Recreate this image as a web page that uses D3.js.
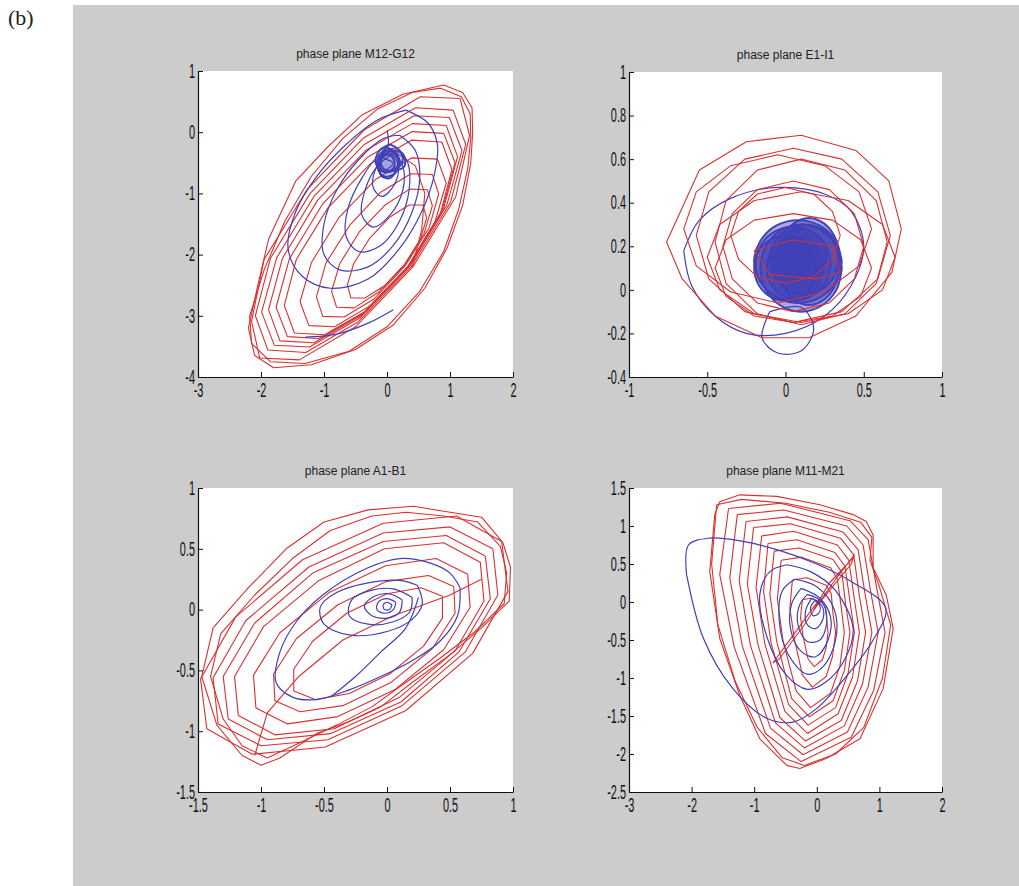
<!DOCTYPE html>
<html>
<head>
<meta charset="utf-8">
<script src="https://cdn.jsdelivr.net/npm/d3@7"></script>
<style>
  body { margin: 0; background: #fff; }
  svg { display: block; }
  .title { font-family: "Liberation Sans", Arial, sans-serif; font-size: 12px; fill: #222; }
  .lbl { font-family: "Liberation Serif", "DejaVu Serif", serif; font-size: 22px; fill: #222; }
</style>
</head>
<body>
<svg id="fig" width="1019" height="886"></svg>
<script>
// ---- tick values ----
const m12XTicks = [-3, -2, -1, 0, 1, 2];
const m12YTicks = [-4, -3, -2, -1, 0, 1];
const e1XTicks = [-1, -0.5, 0, 0.5, 1];
const e1YTicks = [-0.4, -0.2, 0, 0.2, 0.4, 0.6, 0.8, 1];
const a1XTicks = [-1.5, -1, -0.5, 0, 0.5, 1];
const a1YTicks = [-1.5, -1, -0.5, 0, 0.5, 1];
const m11XTicks = [-3, -2, -1, 0, 1, 2];
const m11YTicks = [-2.5, -2, -1.5, -1, -0.5, 0, 0.5, 1, 1.5];

// ---- phase plane M12-G12 ----
const m12Red = [
  [[0.90,0.77],[1.20,0.65],[1.35,0.40],[1.36,0.0],[1.33,-0.5],[1.20,-1.2],[0.95,-1.9],[0.60,-2.55],[0.10,-3.15],[-0.50,-3.55],[-1.20,-3.80],[-1.80,-3.85],[-2.10,-3.65],[-2.20,-3.20],[-2.05,-2.50],[-1.88,-1.75],[-1.45,-0.80],[-0.95,-0.25],[-0.40,0.28],[0.25,0.62],[0.90,0.77]],
  [[0.85,0.72],[1.18,0.58],[1.32,0.30],[1.33,-0.1],[1.28,-0.6],[1.14,-1.25],[0.90,-1.95],[0.52,-2.60],[0.0,-3.18],[-0.60,-3.58],[-1.30,-3.78],[-1.85,-3.75],[-2.15,-3.45],[-2.18,-3.00],[-1.95,-2.25],[-1.62,-1.45],[-1.20,-0.72],[-0.70,-0.10],[-0.15,0.38],[0.40,0.65],[0.85,0.72]],
  [[1.16,0.55],[1.31,-0.05],[1.09,-1.06],[0.41,-2.20],[-0.50,-3.18],[-1.39,-3.72],[-2.02,-3.69],[-2.15,-3.09],[-1.95,-2.08],[-1.27,-0.94],[-0.36,0.04],[0.53,0.58],[1.16,0.55]],
  [[1.05,0.36],[1.25,-0.20],[1.01,-1.14],[0.38,-2.2],[-0.46,-3.1],[-1.29,-3.6],[-1.89,-3.56],[-2.09,-3.0],[-1.85,-2.06],[-1.22,-1.0],[-0.38,-0.1],[0.45,0.4],[1.05,0.36]],
  [[0.99,0.24],[1.19,-0.30],[0.95,-1.19],[0.36,-2.19],[-0.44,-3.04],[-1.23,-3.51],[-1.79,-3.48],[-1.99,-2.94],[-1.75,-2.05],[-1.16,-1.05],[-0.36,-0.20],[0.43,0.27],[0.99,0.24]],
  [[0.94,0.11],[1.12,-0.40],[0.90,-1.24],[0.34,-2.19],[-0.42,-3.0],[-1.16,-3.44],[-1.70,-3.41],[-1.88,-2.90],[-1.66,-2.06],[-1.10,-1.11],[-0.34,-0.30],[0.40,0.14],[0.94,0.11]],
  [[0.90,-0.02],[1.08,-0.50],[0.87,-1.29],[0.34,-2.19],[-0.37,-2.95],[-1.08,-3.37],[-1.58,-3.34],[-1.76,-2.86],[-1.55,-2.07],[-1.02,-1.17],[-0.31,-0.41],[0.40,0.01],[0.90,-0.02]],
  [[0.87,-0.16],[1.03,-0.61],[0.84,-1.36],[0.34,-2.20],[-0.33,-2.92],[-0.99,-3.31],[-1.47,-3.28],[-1.63,-2.83],[-1.44,-2.08],[-0.94,-1.24],[-0.27,-0.52],[0.39,-0.13],[0.87,-0.16]],
  [[0.80,-0.44],[0.94,-0.83],[0.76,-1.47],[0.32,-2.21],[-0.26,-2.83],[-0.83,-3.18],[-1.24,-3.16],[-1.38,-2.77],[-1.20,-2.13],[-0.76,-1.39],[-0.18,-0.77],[0.39,-0.42],[0.80,-0.44]],
  [[0.72,-0.69],[0.82,-1.01],[0.67,-1.56],[0.29,-2.18],[-0.20,-2.72],[-0.68,-3.02],[-1.02,-3.01],[-1.12,-2.69],[-0.97,-2.14],[-0.59,-1.52],[-0.10,-0.98],[0.38,-0.68],[0.72,-0.69]],
  [[0.64,-0.94],[0.72,-1.20],[0.59,-1.65],[0.28,-2.17],[-0.13,-2.61],[-0.52,-2.87],[-0.80,-2.86],[-0.88,-2.60],[-0.75,-2.15],[-0.44,-1.63],[-0.03,-1.19],[0.36,-0.93],[0.64,-0.94]],
  [[0.57,-1.19],[0.63,-1.40],[0.53,-1.75],[0.28,-2.16],[-0.04,-2.51],[-0.35,-2.71],[-0.57,-2.71],[-0.63,-2.50],[-0.53,-2.15],[-0.28,-1.74],[0.04,-1.39],[0.35,-1.19],[0.57,-1.19]],
  [[0.10,-0.30],[0.45,-0.55],[0.60,-1.00],[0.55,-1.60],[0.40,-2.20]]
];
const m12Blue = [
  [[0.30,0.36],[0.65,0.15],[0.80,-0.20],[0.75,-0.70],[0.55,-1.30],[0.20,-1.90],[-0.30,-2.40],[-0.90,-2.55],[-1.35,-2.35],[-1.57,-1.90],[-1.45,-1.30],[-1.10,-0.70],[-0.65,-0.20],[-0.15,0.20],[0.30,0.36]],
  [[0.20,-0.05],[0.45,-0.30],[0.52,-0.75],[0.40,-1.30],[0.10,-1.85],[-0.30,-2.20],[-0.75,-2.25],[-1.00,-2.00],[-1.00,-1.50],[-0.80,-0.95],[-0.45,-0.45],[-0.05,-0.10],[0.20,-0.05]],
  [[0.15,-0.25],[0.33,-0.50],[0.35,-0.95],[0.20,-1.45],[-0.10,-1.85],[-0.45,-1.95],[-0.65,-1.70],[-0.62,-1.25],[-0.40,-0.75],[-0.10,-0.35],[0.15,-0.25]],
  [[0.10,-0.35],[0.25,-0.55],[0.25,-0.95],[0.05,-1.35],[-0.22,-1.55],[-0.40,-1.35],[-0.35,-0.95],[-0.15,-0.55],[0.10,-0.35]],
  [[0.08,-0.35],[0.18,-0.55],[0.12,-0.85],[-0.08,-1.05],[-0.22,-0.90],[-0.18,-0.60],[-0.02,-0.38],[0.08,-0.35]],
  [[0.0,0.03],[0.02,-0.20],[-0.08,-0.40],[0.10,-0.50],[-0.02,-0.62]],
  [[-1.30,-3.35],[-0.80,-3.30],[-0.30,-3.12],[0.10,-2.90]]
];
const m12Blob = [
  [[0.0,-0.25],[0.15,-0.35],[0.20,-0.50],[0.12,-0.68],[-0.05,-0.72],[-0.15,-0.58],[-0.12,-0.38],[0.0,-0.25]],
  [[0.05,-0.30],[0.25,-0.35],[0.28,-0.55],[0.15,-0.62],[-0.05,-0.60],[-0.10,-0.45],[0.05,-0.30]],
  [[-0.05,-0.35],[0.08,-0.40],[0.12,-0.55],[0.02,-0.65],[-0.10,-0.60],[-0.12,-0.45],[-0.05,-0.35]],
  [[0.05,-0.20],[0.20,-0.30],[0.25,-0.45],[0.15,-0.60],[-0.05,-0.65],[-0.18,-0.50],[-0.12,-0.30],[0.05,-0.20]],
  [[-0.10,-0.40],[0.0,-0.30],[0.12,-0.35],[0.18,-0.50],[0.05,-0.75],[-0.10,-0.70],[-0.10,-0.40]]
];

// ---- phase plane E1-I1 ----
const e1Red = [
  [[0.74,0.28],[0.66,0.50],[0.45,0.64],[0.10,0.71],[-0.25,0.68],[-0.55,0.55],[-0.76,0.22],[-0.66,0.05],[-0.45,-0.12],[-0.15,-0.22],[0.15,-0.22],[0.45,-0.12],[0.68,0.08],[0.74,0.28]],
  [[0.67,0.25],[0.59,0.45],[0.36,0.60],[0.05,0.65],[-0.26,0.60],[-0.49,0.45],[-0.57,0.25],[-0.49,0.05],[-0.26,-0.10],[0.05,-0.15],[0.36,-0.10],[0.59,0.05],[0.67,0.25]],
  [[0.55,0.28],[0.47,0.45],[0.25,0.57],[-0.05,0.62],[-0.35,0.57],[-0.57,0.45],[-0.65,0.28],[-0.57,0.11],[-0.35,-0.01],[-0.05,-0.06],[0.25,-0.01],[0.47,0.11],[0.55,0.28]],
  [[0.65,0.22],[0.58,0.41],[0.38,0.55],[0.10,0.60],[-0.18,0.55],[-0.38,0.41],[-0.45,0.22],[-0.38,0.03],[-0.18,-0.11],[0.10,-0.16],[0.38,-0.11],[0.58,0.03],[0.65,0.22]],
  [[0.50,0.20],[0.44,0.35],[0.28,0.46],[0.05,0.50],[-0.18,0.46],[-0.34,0.35],[-0.40,0.20],[-0.34,0.05],[-0.18,-0.06],[0.05,-0.10],[0.28,-0.06],[0.44,0.05],[0.50,0.20]],
  [[0.35,0.25],[0.30,0.36],[0.18,0.44],[0.0,0.47],[-0.18,0.44],[-0.30,0.36],[-0.35,0.25],[-0.30,0.14],[-0.18,0.06],[0.0,0.03],[0.18,0.06],[0.30,0.14],[0.35,0.25]],
  [[0.70,0.15],[0.62,0.30],[0.40,0.41],[0.10,0.45],[-0.20,0.41],[-0.42,0.30],[-0.50,0.15],[-0.42,0.0],[-0.20,-0.11],[0.10,-0.15],[0.40,-0.11],[0.62,0.0],[0.70,0.15]],
  [[0.55,0.10],[0.48,0.23],[0.30,0.32],[0.05,0.35],[-0.20,0.32],[-0.38,0.23],[-0.45,0.10],[-0.38,-0.03],[-0.20,-0.12],[0.05,-0.15],[0.30,-0.12],[0.48,-0.03],[0.55,0.10]],
  [[0.30,0.20],[0.05,0.23],[-0.20,0.18],[-0.10,0.07],[0.20,0.05],[0.35,0.08],[0.30,0.20]]
];
const e1Blue = [
  [[-0.65,0.18],[-0.55,0.32],[-0.35,0.42],[-0.05,0.47],[0.25,0.44],[0.42,0.36],[0.50,0.20],[0.42,0.02],[0.25,-0.12],[0.0,-0.20],[-0.25,-0.20],[-0.45,-0.12],[-0.60,0.02],[-0.65,0.18]],
  [[-0.10,-0.10],[-0.15,-0.22],[-0.05,-0.29],[0.10,-0.28],[0.18,-0.18],[0.10,-0.08],[-0.10,-0.10]]
];
const e1Blob = [
  [[0.36,0.13],[0.32,0.225],[0.22,0.295],[0.08,0.32],[-0.06,0.295],[-0.16,0.225],[-0.20,0.13],[-0.16,0.035],[-0.06,-0.035],[0.08,-0.06],[0.22,-0.035],[0.32,0.035],[0.36,0.13]],
  [[0.29,0.12],[0.258,0.205],[0.17,0.267],[0.05,0.29],[-0.07,0.267],[-0.158,0.205],[-0.19,0.12],[-0.158,0.035],[-0.07,-0.027],[0.05,-0.05],[0.17,-0.027],[0.258,0.035],[0.29,0.12]],
  [[0.34,0.14],[0.31,0.22],[0.23,0.279],[0.12,0.30],[0.01,0.279],[-0.07,0.22],[-0.10,0.14],[-0.07,0.06],[0.01,0.001],[0.12,-0.02],[0.23,0.001],[0.31,0.06],[0.34,0.14]],
  [[0.24,0.10],[0.216,0.17],[0.15,0.221],[0.06,0.24],[-0.03,0.221],[-0.096,0.17],[-0.12,0.10],[-0.096,0.03],[-0.03,-0.021],[0.06,-0.04],[0.15,-0.021],[0.216,0.03],[0.24,0.10]],
  [[0.26,0.16],[0.239,0.22],[0.18,0.264],[0.10,0.28],[0.02,0.264],[-0.039,0.22],[-0.06,0.16],[-0.039,0.10],[0.02,0.056],[0.10,0.04],[0.18,0.056],[0.239,0.10],[0.26,0.16]],
  [[0.16,0.13],[0.144,0.18],[0.10,0.217],[0.04,0.23],[-0.02,0.217],[-0.064,0.18],[-0.08,0.13],[-0.064,0.08],[-0.02,0.043],[0.04,0.03],[0.10,0.043],[0.144,0.08],[0.16,0.13]],
  [[0.36,0.10],[0.325,0.20],[0.23,0.273],[0.10,0.30],[-0.03,0.273],[-0.125,0.20],[-0.16,0.10],[-0.125,0.0],[-0.03,-0.073],[0.10,-0.10],[0.23,-0.073],[0.325,0.0],[0.36,0.10]],
  [[0.16,0.12],[0.149,0.155],[0.12,0.181],[0.08,0.19],[0.04,0.181],[0.011,0.155],[0.0,0.12],[0.011,0.085],[0.04,0.059],[0.08,0.05],[0.12,0.059],[0.149,0.085],[0.16,0.12]],
  [[0.35,0.13],[0.323,0.23],[0.25,0.303],[0.15,0.33],[0.05,0.303],[-0.023,0.23],[-0.05,0.13],[-0.023,0.03],[0.05,-0.043],[0.15,-0.07],[0.25,-0.043],[0.323,0.03],[0.35,0.13]],
  [[0.20,0.10],[0.173,0.175],[0.10,0.23],[0.0,0.25],[-0.10,0.23],[-0.173,0.175],[-0.20,0.10],[-0.173,0.025],[-0.10,-0.03],[0.0,-0.05],[0.10,-0.03],[0.173,0.025],[0.20,0.10]]
];

// ---- phase plane A1-B1 ----
const a1Red = [
  [[0.21,0.85],[0.50,0.80],[0.75,0.76],[0.92,0.55],[0.98,0.35],[0.97,0.07],[0.75,-0.15],[0.50,-0.37],[0.20,-0.60],[-0.05,-0.80],[-0.30,-0.92],[-0.56,-1.02],[-0.85,-1.22],[-1.00,-1.28],[-1.15,-1.20],[-1.35,-0.95],[-1.47,-0.55],[-1.38,-0.15],[-1.10,0.18],[-0.80,0.50],[-0.50,0.72],[-0.15,0.82],[0.21,0.85]],
  [[0.15,0.80],[0.45,0.77],[0.72,0.72],[0.90,0.52],[0.95,0.30],[0.93,0.05],[0.70,-0.18],[0.42,-0.40],[0.12,-0.62],[-0.12,-0.80],[-0.40,-0.95],[-0.70,-1.10],[-0.95,-1.22],[-1.15,-1.12],[-1.30,-0.90],[-1.40,-0.55],[-1.32,-0.20],[-1.05,0.12],[-0.75,0.42],[-0.45,0.65],[-0.12,0.77],[0.15,0.80]],
  [[0.91,0.56],[0.55,0.77],[-0.03,0.71],[-0.67,0.41],[-1.20,-0.06],[-1.48,-0.57],[-1.43,-0.98],[-1.07,-1.19],[-0.49,-1.13],[0.15,-0.83],[0.68,-0.36],[0.96,0.15],[0.91,0.56]],
  [[0.84,0.50],[0.50,0.68],[-0.03,0.63],[-0.62,0.35],[-1.12,-0.09],[-1.38,-0.56],[-1.34,-0.94],[-1.00,-1.12],[-0.47,-1.07],[0.12,-0.79],[0.62,-0.35],[0.88,0.12],[0.84,0.50]],
  [[0.78,0.44],[0.47,0.61],[-0.03,0.56],[-0.59,0.30],[-1.05,-0.11],[-1.30,-0.55],[-1.26,-0.90],[-0.95,-1.07],[-0.45,-1.02],[0.11,-0.76],[0.57,-0.35],[0.82,0.09],[0.78,0.44]],
  [[0.74,0.39],[0.45,0.55],[-0.02,0.50],[-0.54,0.24],[-0.98,-0.14],[-1.21,-0.55],[-1.18,-0.87],[-0.89,-1.03],[-0.42,-0.98],[0.10,-0.72],[0.54,-0.34],[0.77,0.07],[0.74,0.39]],
  [[0.64,0.29],[0.39,0.42],[-0.01,0.36],[-0.46,0.14],[-0.85,-0.19],[-1.06,-0.54],[-1.04,-0.81],[-0.79,-0.94],[-0.39,-0.88],[0.06,-0.66],[0.45,-0.33],[0.66,0.02],[0.64,0.29]],
  [[0.53,0.19],[0.33,0.28],[-0.01,0.23],[-0.39,0.04],[-0.72,-0.24],[-0.90,-0.53],[-0.89,-0.75],[-0.69,-0.84],[-0.35,-0.79],[0.03,-0.60],[0.36,-0.32],[0.54,-0.03],[0.53,0.19]],
  [[0.44,0.11],[0.27,0.18],[0.0,0.13],[-0.32,-0.03],[-0.59,-0.26],[-0.74,-0.49],[-0.74,-0.67],[-0.57,-0.74],[-0.30,-0.69],[0.02,-0.53],[0.29,-0.30],[0.44,-0.07],[0.44,0.11]],
  [[-1.05,-1.20],[-0.95,-0.85],[-0.70,-0.55],[-0.35,-0.25],[0.05,-0.05],[0.50,0.12],[0.75,0.25]]
];
const a1Blue = [
  [[0.58,0.18],[0.56,-0.05],[0.42,-0.26],[0.20,-0.42],[-0.05,-0.55],[-0.30,-0.66],[-0.56,-0.74],[-0.75,-0.72],[-0.88,-0.60],[-0.85,-0.35],[-0.72,-0.10],[-0.51,0.12],[-0.16,0.34],[0.10,0.42],[0.35,0.38],[0.50,0.30],[0.58,0.18]],
  [[0.24,0.20],[0.28,0.05],[0.20,-0.08],[0.0,-0.18],[-0.29,-0.21],[-0.50,-0.12],[-0.53,0.02],[-0.40,0.14],[-0.15,0.22],[0.10,0.24],[0.24,0.20]],
  [[0.20,0.10],[0.18,-0.02],[0.05,-0.10],[-0.15,-0.12],[-0.30,-0.05],[-0.28,0.08],[-0.12,0.16],[0.05,0.17],[0.20,0.10]],
  [[0.12,0.08],[0.10,-0.02],[0.0,-0.07],[-0.12,-0.05],[-0.18,0.03],[-0.10,0.11],[0.02,0.13],[0.12,0.08]],
  [[0.07,0.06],[0.05,0.0],[-0.02,-0.03],[-0.08,0.0],[-0.07,0.06],[0.0,0.09],[0.07,0.06]],
  [[0.04,0.04],[0.02,0.0],[-0.02,0.0],[-0.03,0.04],[0.0,0.06],[0.04,0.04]],
  [[0.25,0.10],[0.15,-0.15],[-0.05,-0.35],[-0.25,-0.55],[-0.45,-0.72]]
];

// ---- phase plane M11-M21 ----
const m11Red = [
  [[-1.63,1.15],[-1.55,1.32],[-1.23,1.41],[-0.64,1.39],[0.05,1.28],[0.58,1.15],[0.79,1.06],[0.90,0.88],[0.90,0.45],[1.11,0.09],[1.22,-0.35],[1.06,-1.14],[0.69,-1.80],[0.15,-2.06],[-0.27,-2.19],[-0.48,-2.15],[-0.91,-1.80],[-1.23,-1.23],[-1.55,-0.48],[-1.71,0.40],[-1.63,1.15]],
  [[-1.60,1.28],[-1.20,1.35],[-0.50,1.30],[0.20,1.18],[0.70,1.05],[0.88,0.85],[0.85,0.55],[1.00,0.20],[1.18,-0.30],[1.05,-1.00],[0.75,-1.65],[0.30,-2.00],[-0.20,-2.15],[-0.55,-2.05],[-0.95,-1.65],[-1.30,-1.05],[-1.58,-0.30],[-1.68,0.50],[-1.60,1.28]],
  [[-1.41,1.23],[-0.58,1.30],[0.53,1.07],[0.82,0.82],[0.96,0.17],[1.09,-0.40],[0.91,-1.16],[0.55,-1.78],[-0.25,-2.10],[-0.82,-1.73],[-1.32,-0.59],[-1.55,0.36],[-1.41,1.23]],
  [[-1.27,1.15],[-0.53,1.21],[0.48,1.00],[0.74,0.75],[0.86,0.14],[0.98,-0.40],[0.82,-1.12],[0.49,-1.71],[-0.22,-2.01],[-0.74,-1.66],[-1.19,-0.58],[-1.39,0.32],[-1.27,1.15]],
  [[-1.13,1.06],[-0.47,1.12],[0.42,0.92],[0.66,0.69],[0.77,0.11],[0.88,-0.40],[0.73,-1.08],[0.44,-1.63],[-0.20,-1.92],[-0.66,-1.59],[-1.06,-0.57],[-1.24,0.28],[-1.13,1.06]],
  [[-1.01,0.98],[-0.42,1.03],[0.38,0.84],[0.59,0.62],[0.68,0.08],[0.78,-0.40],[0.65,-1.04],[0.39,-1.56],[-0.18,-1.83],[-0.59,-1.52],[-0.94,-0.56],[-1.11,0.24],[-1.01,0.98]],
  [[-0.88,0.87],[-0.37,0.93],[0.33,0.75],[0.51,0.55],[0.60,0.04],[0.68,-0.40],[0.57,-0.99],[0.34,-1.47],[-0.15,-1.73],[-0.51,-1.44],[-0.83,-0.55],[-0.97,0.19],[-0.88,0.87]],
  [[-0.78,0.77],[-0.32,0.82],[0.29,0.65],[0.45,0.47],[0.53,0.01],[0.60,-0.40],[0.50,-0.94],[0.30,-1.39],[-0.14,-1.62],[-0.45,-1.35],[-0.73,-0.54],[-0.85,0.14],[-0.78,0.77]],
  [[-0.68,0.67],[-0.28,0.71],[0.26,0.56],[0.40,0.39],[0.46,-0.03],[0.53,-0.40],[0.44,-0.90],[0.26,-1.30],[-0.12,-1.51],[-0.40,-1.27],[-0.64,-0.52],[-0.75,0.10],[-0.68,0.67]],
  [[-0.57,0.55],[-0.24,0.59],[0.22,0.45],[0.33,0.30],[0.39,-0.07],[0.44,-0.40],[0.37,-0.84],[0.22,-1.20],[-0.10,-1.39],[-0.33,-1.17],[-0.54,-0.51],[-0.63,0.04],[-0.57,0.55]],
  [[-0.39,0.29],[-0.16,0.32],[0.15,0.22],[0.23,0.11],[0.26,-0.16],[0.30,-0.40],[0.25,-0.72],[0.15,-0.98],[-0.07,-1.12],[-0.23,-0.96],[-0.36,-0.48],[-0.43,-0.08],[-0.39,0.29]],
  [[-0.23,0.03],[-0.10,0.05],[0.09,-0.01],[0.14,-0.08],[0.16,-0.25],[0.18,-0.40],[0.15,-0.60],[0.09,-0.76],[-0.04,-0.85],[-0.14,-0.75],[-0.22,-0.45],[-0.26,-0.20],[-0.23,0.03]],
  [[0.0,-0.05],[0.30,0.30],[0.60,0.62],[0.55,0.50],[0.25,0.20],[-0.05,-0.10],[0.20,0.25],[0.58,0.58]],
  [[0.05,0.05],[-0.30,-0.35],[-0.70,-0.80],[-0.60,-0.75],[-0.20,-0.30],[0.0,-0.05]]
];
const m11Blue = [
  [[-2.08,0.36],[-2.05,0.75],[-1.71,0.84],[-1.20,0.80],[-0.60,0.68],[0.00,0.50],[0.55,0.27],[1.10,-0.08],[0.90,-0.50],[0.50,-0.95],[0.0,-1.40],[-0.38,-1.58],[-0.80,-1.53],[-1.34,-1.14],[-1.81,-0.48],[-2.08,0.36]],
  [[-0.48,0.49],[-0.10,0.40],[0.30,0.15],[0.58,-0.35],[0.45,-0.75],[0.15,-1.05],[-0.15,-1.15],[-0.50,-0.95],[-0.80,-0.45],[-0.91,0.10],[-0.75,0.40],[-0.48,0.49]],
  [[-0.35,0.30],[0.0,0.20],[0.28,-0.10],[0.30,-0.50],[0.10,-0.85],[-0.15,-0.95],[-0.45,-0.70],[-0.60,-0.25],[-0.55,0.15],[-0.35,0.30]],
  [[-0.25,0.18],[0.05,0.05],[0.22,-0.20],[0.18,-0.50],[-0.02,-0.72],[-0.25,-0.65],[-0.42,-0.35],[-0.40,-0.02],[-0.25,0.18]],
  [[-0.15,0.10],[0.08,0.0],[0.16,-0.25],[0.05,-0.50],[-0.15,-0.52],[-0.30,-0.30],[-0.28,-0.05],[-0.15,0.10]],
  [[-0.08,0.05],[0.08,-0.05],[0.10,-0.22],[-0.02,-0.35],[-0.15,-0.30],[-0.18,-0.12],[-0.08,0.05]],
  [[-0.03,0.02],[0.05,-0.05],[0.03,-0.15],[-0.06,-0.18],[-0.10,-0.08],[-0.03,0.02]]
];

const RED = "#d93030";
const BLUE = "#4040b8";

const panels = [
  { title: "phase plane M12-G12", box: [198, 71, 513, 377], xDom: [-3, 2], yDom: [-4, 1],
    xTicks: m12XTicks, yTicks: m12YTicks, red: m12Red, blue: m12Blue, blob: m12Blob, blobFill: 0.12, redTop: false },
  { title: "phase plane E1-I1", box: [629, 72, 942, 377], xDom: [-1, 1], yDom: [-0.4, 1],
    xTicks: e1XTicks, yTicks: e1YTicks, red: e1Red, blue: e1Blue, blob: e1Blob, blobFill: 0.45, redTop: true },
  { title: "phase plane A1-B1", box: [198, 488, 513, 792], xDom: [-1.5, 1], yDom: [-1.5, 1],
    xTicks: a1XTicks, yTicks: a1YTicks, red: a1Red, blue: a1Blue, blob: [], blobFill: 0, redTop: false },
  { title: "phase plane M11-M21", box: [629, 488, 942, 792], xDom: [-3, 2], yDom: [-2.5, 1.5],
    xTicks: m11XTicks, yTicks: m11YTicks, red: m11Red, blue: m11Blue, blob: [], blobFill: 0, redTop: false }
];

const svg = d3.select("#fig");

// figure background (matlab grey)
svg.append("rect").attr("x", 73).attr("y", 5).attr("width", 946).attr("height", 881).attr("fill", "#cccccc");
svg.append("text").attr("class", "lbl").attr("x", 8).attr("y", 25).text("(b)");

const fmt = d => String(d);

panels.forEach((p, i) => {
  const [x0, y0, x1, y1] = p.box;
  const x = d3.scaleLinear().domain(p.xDom).range([x0, x1]);
  const y = d3.scaleLinear().domain(p.yDom).range([y1, y0]);

  const g = svg.append("g");
  g.append("rect").attr("x", x0).attr("y", y0).attr("width", x1 - x0).attr("height", y1 - y0).attr("fill", "#fff");

  svg.append("clipPath").attr("id", "clip" + i)
    .append("rect").attr("x", x0).attr("y", y0).attr("width", x1 - x0).attr("height", y1 - y0);

  const plot = g.append("g").attr("clip-path", `url(#clip${i})`);

  const redLine = d3.line().x(d => x(d[0])).y(d => y(d[1]));
  const blueLine = d3.line().x(d => x(d[0])).y(d => y(d[1])).curve(d3.curveCatmullRom.alpha(0.5));

  const drawRed = () => plot.append("g").selectAll("path").data(p.red).join("path")
    .attr("d", redLine).attr("fill", "none").attr("stroke", RED).attr("stroke-width", 1.1)
    .attr("stroke-linejoin", "round");
  const drawBlue = () => {
    plot.append("g").selectAll("path").data(p.blue).join("path")
      .attr("d", blueLine).attr("fill", "none").attr("stroke", BLUE).attr("stroke-width", 1.2);
    // dense tangle of small loops: the fill builds up the solid look
    plot.append("g").selectAll("path").data(p.blob).join("path")
      .attr("d", blueLine).attr("fill", BLUE).attr("fill-opacity", p.blobFill)
      .attr("stroke", BLUE).attr("stroke-width", 2);
  };
  if (p.redTop) { drawBlue(); drawRed(); } else { drawRed(); drawBlue(); }

  // axes: matlab style, ticks inward, only left & bottom
  const gx = g.append("g").attr("transform", `translate(0,${y1})`)
    .call(d3.axisBottom(x).tickValues(p.xTicks).tickFormat(fmt).tickSizeInner(-5).tickSizeOuter(0));
  const gy = g.append("g").attr("transform", `translate(${x0},0)`)
    .call(d3.axisLeft(y).tickValues(p.yTicks).tickFormat(fmt).tickSizeInner(-5).tickSizeOuter(0));

  [gx, gy].forEach(ax => {
    ax.attr("font-family", "'Liberation Sans', Arial, sans-serif").attr("font-size", 14).attr("color", "#111");
    ax.select(".domain").attr("stroke-width", 1.2);
  });
  gx.selectAll(".tick text").attr("y", 0).attr("dy", "0.71em")
    .attr("transform", "translate(0,6) scale(0.78,1.4)");
  gy.selectAll(".tick text").attr("x", 0).attr("dy", "0.32em")
    .attr("transform", "translate(-3,0) scale(0.78,1.4)");

  g.append("text").attr("class", "title")
    .attr("x", (x0 + x1) / 2).attr("y", y0 - 13)
    .attr("text-anchor", "middle").text(p.title);
});
</script>
</body>
</html>
